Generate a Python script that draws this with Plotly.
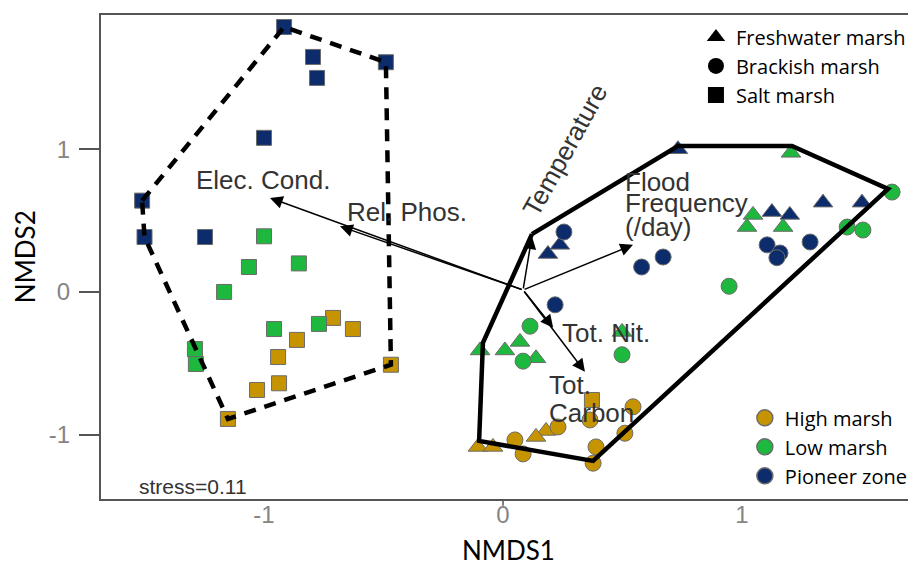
import plotly.graph_objects as go

# ---------------- data ----------------
# Salt marsh (squares)
salt_pioneer_x = [-0.916, -0.795, -0.778, -0.49, -1.0, -1.51, -1.50, -1.247]
salt_pioneer_y = [1.857, 1.647, 1.50, 1.61, 1.08, 0.64, 0.385, 0.385]
salt_low_x = [-1.0, -1.063, -0.854, -1.167, -0.958, -0.77, -1.289, -1.285]
salt_low_y = [0.39, 0.175, 0.20, 0.0, -0.26, -0.224, -0.40, -0.505]
salt_high_x = [-0.711, -0.628, -0.862, -0.941, -0.469, -0.937, -1.029, -1.151, 0.372]
salt_high_y = [-0.182, -0.26, -0.336, -0.456, -0.51, -0.64, -0.687, -0.89, -0.757]

# Brackish marsh (circles)
brack_pioneer_x = [0.255, 0.58, 0.67, 1.105, 1.159, 1.146, 1.285, 0.218]
brack_pioneer_y = [0.42, 0.175, 0.245, 0.33, 0.273, 0.24, 0.35, -0.09]
brack_low_x = [1.628, 1.44, 1.506, 0.946, 0.113, 0.084, 0.498]
brack_low_y = [0.70, 0.455, 0.434, 0.04, -0.24, -0.485, -0.44]
brack_high_x = [0.544, 0.364, 0.23, 0.05, 0.084, 0.51, 0.389, 0.377]
brack_high_y = [-0.805, -0.897, -0.946, -1.037, -1.135, -0.99, -1.086, -1.2]

# Freshwater marsh (triangles)
fresh_pioneer_x = [0.732, 0.188, 0.238, 1.125, 1.20, 1.339, 1.502]
fresh_pioneer_y = [1.0, 0.266, 0.33, 0.56, 0.54, 0.626, 0.626]
fresh_low_x = [1.205, 1.046, 1.021, 1.172, -0.096, 0.008, 0.071, 0.138, 0.498]
fresh_low_y = [0.975, 0.54, 0.455, 0.455, -0.41, -0.41, -0.35, -0.465, -0.28]
fresh_high_x = [0.18, 0.138, -0.105, -0.042]
fresh_high_y = [-0.974, -1.016, -1.086, -1.086]

# Hulls
salt_hull_x = [-1.51, -0.916, -0.49, -0.469, -1.151, -1.50, -1.51]
salt_hull_y = [0.64, 1.857, 1.61, -0.51, -0.89, 0.385, 0.64]
other_hull_x = [0.121, 0.732, 1.209, 1.611, 0.377, -0.10, -0.084, 0.121]
other_hull_y = [0.405, 1.023, 1.023, 0.722, -1.184, -1.044, -0.357, 0.405]

# Environmental vectors
vec_origin = (0.084, 0.014)
vec_names = ["Elec. Cond.", "Rel. Phos.", "Temperature", "Flood Frequency", "Tot. Nit.", "Tot. Carbon"]
vec_x = [-0.975, -0.682, 0.121, 0.544, 0.21, 0.343]
vec_y = [0.659, 0.46, 0.39, 0.33, -0.25, -0.56]

stress_text = "stress=0.11"

# ---------------- style ----------------
NAVY = "#0d2c6c"
GREEN = "#1eb83e"
GOLD = "#c69400"
OUTLINE = "#6b6b6b"
ANN_FONT = "Liberation Sans, Arial, sans-serif"
LEG_FONT = "Open Sans, Lato, sans-serif"
TITLE_FONT = "Lato, Open Sans, sans-serif"

fig = go.Figure()

groups = [
    (fresh_high_x, fresh_high_y, GOLD, "triangle-up", 17),
    (fresh_low_x, fresh_low_y, GREEN, "triangle-up", 17),
    (fresh_pioneer_x, fresh_pioneer_y, NAVY, "triangle-up", 17),
    (brack_high_x, brack_high_y, GOLD, "circle", 16),
    (brack_low_x, brack_low_y, GREEN, "circle", 16),
    (brack_pioneer_x, brack_pioneer_y, NAVY, "circle", 16),
    (salt_high_x, salt_high_y, GOLD, "square", 15),
    (salt_low_x, salt_low_y, GREEN, "square", 15),
    (salt_pioneer_x, salt_pioneer_y, NAVY, "square", 15),
]
for gx, gy, col, sym, sz in groups:
    fig.add_trace(go.Scatter(
        x=gx, y=gy, mode="markers", showlegend=False, hoverinfo="skip",
        marker=dict(color=col, symbol=sym, size=sz, line=dict(color=OUTLINE, width=1)),
    ))

fig.add_trace(go.Scatter(x=salt_hull_x, y=salt_hull_y, mode="lines", showlegend=False,
                         line=dict(color="black", width=4.5, dash="12px,9px"), hoverinfo="skip"))
fig.add_trace(go.Scatter(x=other_hull_x, y=other_hull_y, mode="lines", showlegend=False,
                         line=dict(color="black", width=4.5), hoverinfo="skip"))

# legend 1: marsh type
for name, sym in [("Freshwater marsh", "triangle-up"), ("Brackish marsh", "circle"), ("Salt marsh", "square")]:
    fig.add_trace(go.Scatter(x=[None], y=[None], mode="markers", name=name, legend="legend",
                             marker=dict(color="black", symbol=sym, size=16)))
# legend 2: zone
for name, col in [("High marsh", GOLD), ("Low marsh", GREEN), ("Pioneer zone", NAVY)]:
    fig.add_trace(go.Scatter(x=[None], y=[None], mode="markers", name=name, legend="legend2",
                             marker=dict(color=col, symbol="circle", size=16,
                                         line=dict(color=OUTLINE, width=1.5))))

# arrows
for vx, vy in zip(vec_x, vec_y):
    fig.add_annotation(x=vx, y=vy, ax=vec_origin[0], ay=vec_origin[1], xref="x", yref="y",
                       axref="x", ayref="y", text="", showarrow=True, arrowhead=2,
                       arrowsize=1.7, arrowwidth=1.5, arrowcolor="black", standoff=0)

TXT = dict(family=ANN_FONT, size=26, color="#333333")
labels = [
    ("Elec. Cond.", -1.004, 0.785, "center", 0),
    ("Rel. Phos.", -0.40, 0.56, "center", 0),
    ("Temperature", 0.26, 0.995, "center", -61),
    ("Flood", 0.502, 0.77, "left", 0),
    ("Frequency", 0.502, 0.62, "left", 0),
    ("(/day)", 0.502, 0.455, "left", 0),
    ("Tot. Nit.", 0.431, -0.29, "center", 0),
    ("Tot.", 0.184, -0.652, "left", 0),
    ("Carbon", 0.184, -0.848, "left", 0),
]
for t, lx, ly, anc, ang in labels:
    fig.add_annotation(x=lx, y=ly, xref="x", yref="y", text=t, showarrow=False,
                       xanchor=anc, yanchor="middle", textangle=ang, font=TXT)

fig.add_annotation(x=-1.531, y=-1.366, xref="x", yref="y", text=stress_text, showarrow=False,
                   xanchor="left", yanchor="middle",
                   font=dict(family=ANN_FONT, size=21, color="#333333"))

# axis titles
fig.add_annotation(x=0.5, y=-0.105, xref="paper", yref="paper", text="NMDS1", showarrow=False,
                   xanchor="center", yanchor="middle", font=dict(family=TITLE_FONT, size=26, color="black"))
fig.add_annotation(x=-0.093, y=0.5, xref="paper", yref="paper", text="NMDS2", showarrow=False,
                   textangle=-90, xanchor="center", yanchor="middle",
                   font=dict(family=TITLE_FONT, size=26, color="black"))

# small tick at x=0
fig.add_shape(type="line", x0=0, x1=0, xref="x", y0=0, y1=-0.014, yref="paper",
              line=dict(color="#555555", width=1.5))

# the page body adds an 8px offset; figure is sized so the plot lands where the reference has it
fig.update_layout(
    width=908, height=562,
    margin=dict(l=93, r=0, t=7, b=71, autoexpand=False),
    paper_bgcolor="white", plot_bgcolor="white",
    xaxis=dict(range=[-1.682, 1.728], tickvals=[-1, 0, 1], ticktext=["-1", "0", "1"],
               showgrid=False, zeroline=False, showline=True, mirror=True, automargin=False,
               linecolor="#555555", linewidth=2, ticks="", ticklabelstandoff=-7,
               tickfont=dict(family=ANN_FONT, size=24, color="#858585")),
    yaxis=dict(range=[-1.451, 1.941], tickvals=[-1, 0, 1], ticktext=["-1", "0", "1"],
               showgrid=False, zeroline=False, showline=True, mirror=False, automargin=False,
               linecolor="#555555", linewidth=2, ticks="outside", ticklen=20, tickwidth=2,
               tickcolor="#555555", ticklabelstandoff=4,
               tickfont=dict(family=ANN_FONT, size=24, color="#858585")),
    legend=dict(x=0.73, y=0.995, xanchor="left", yanchor="top", bgcolor="rgba(0,0,0,0)",
                font=dict(family=LEG_FONT, size=20, color="black"), tracegroupgap=0),
    legend2=dict(x=0.79, y=0.208, xanchor="left", yanchor="top", bgcolor="rgba(0,0,0,0)",
                 font=dict(family=LEG_FONT, size=20, color="black"), tracegroupgap=0),
)

fig.write_html("out.html")
